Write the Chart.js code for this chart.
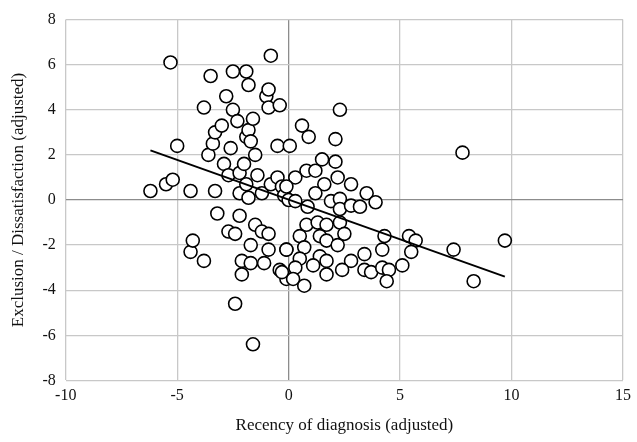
<!DOCTYPE html><html><head><script src="https://cdn.jsdelivr.net/npm/chart.js"></script>
<style>body{margin:0;background:#fff}#w{width:637px;height:442px}</style></head><body><div id="w"><canvas id="c"></canvas></div>
<script>
const xs=[-6.2,-5.3,-5.5,-5.2,-5.0,-4.4,-4.4,-4.3,-3.8,-3.8,-3.6,-3.5,-3.4,-3.3,-3.3,-3.2,-3.0,-2.9,-2.8,-2.7,-2.7,-2.5,-2.5,-2.6,-2.4,-2.4,-2.3,-2.2,-2.2,-2.2,-2.1,-2.1,-2.0,-1.9,-1.9,-1.9,-1.8,-1.8,-1.8,-1.7,-1.7,-1.7,-1.6,-1.6,-1.5,-1.5,-1.4,-1.2,-1.2,-1.1,-1.0,-0.9,-0.9,-0.9,-0.9,-0.8,-0.8,-0.5,-0.5,-0.4,-0.4,-0.3,-0.2,-0.1,-0.1,
2.3,0.6,0.9,2.1,0.05,1.5,2.1,0.8,1.2,0.3,2.2,2.8,1.6,1.2,-0.1,3.5,3.9,1.9,2.3,0,0.3,2.3,2.8,3.2,0.85,0.8,1.3,1.7,2.3,2.5,0.5,1.4,1.7,2.2,4.3,5.4,5.7,4.2,5.5,0.7,-0.1,0.5,1.4,1.7,3.4,2.8,1.1,0.3,2.4,3.4,3.7,4.2,4.5,5.1,1.7,0.2,0.7,4.4,-0.3,7.8,7.4,8.3,9.7];
const ys=[0.4,6.1,0.7,0.9,2.4,0.4,-2.3,-1.8,4.1,-2.7,2.0,5.5,2.5,3.0,0.4,-0.6,3.3,1.6,4.6,1.1,-1.4,5.7,4.0,2.3,-1.5,-4.6,3.5,1.2,0.3,-0.7,-2.7,-3.3,1.6,5.7,2.8,0.7,5.1,3.1,0.1,2.6,-2.0,-2.8,-6.4,3.6,2.0,-1.1,1.1,0.3,-1.4,-2.8,4.6,4.9,4.1,-1.5,-2.2,6.4,0.7,2.4,1.0,4.2,-3.1,0.6,0.2,-2.2,-3.5,
4.0,3.3,2.8,2.7,2.4,1.8,1.7,1.3,1.3,1.0,1.0,0.7,0.7,0.3,0.6,0.3,-0.1,-0.05,0.05,0,-0.05,-0.4,-0.25,-0.3,-0.3,-1.1,-1.0,-1.1,-1.0,-1.5,-1.6,-1.6,-1.8,-2.0,-1.6,-1.6,-1.8,-2.2,-2.3,-2.1,-2.2,-2.6,-2.5,-2.7,-2.4,-2.7,-2.9,-3.0,-3.1,-3.1,-3.2,-3.0,-3.1,-2.9,-3.3,-3.5,-3.8,-3.6,-3.2,2.1,-2.2,-3.6,-1.8];
const trendX=[-6.2,9.7], trendY=[2.2,-3.4];
const xTicks=[-10,-5,0,5,10,15], yTicks=[-8,-6,-4,-2,0,2,4,6,8];
const serif='"Liberation Serif","Times New Roman",serif';
const gc=c=>c.tick&&c.tick.value===0?'#8c8c8c':'#c8c8c8';
new Chart(document.getElementById('c'),{data:{datasets:[
{type:'line',data:trendX.map((x,i)=>({x,y:trendY[i]})),borderColor:'#000',borderWidth:2,pointRadius:0,order:0},
{type:'scatter',data:xs.map((x,i)=>({x,y:ys[i]})),pointRadius:6.5,pointBackgroundColor:'#fff',pointBorderColor:'#000',pointBorderWidth:1.6,order:1}]},
options:{responsive:true,maintainAspectRatio:false,animation:false,layout:{padding:{top:4,right:12,left:4,bottom:2}},
plugins:{legend:{display:false},tooltip:{enabled:false}},
scales:{x:{type:'linear',min:-10,max:15,afterBuildTicks:a=>{a.ticks=xTicks.map(v=>({value:v}))},grid:{color:gc,lineWidth:1.3,drawTicks:false},border:{display:false},
ticks:{color:'#111',font:{family:serif,size:16},padding:6},title:{display:true,text:'Recency of diagnosis (adjusted)',color:'#111',font:{family:serif,size:17}}},
y:{min:-8,max:8,afterBuildTicks:a=>{a.ticks=yTicks.map(v=>({value:v}))},grid:{color:gc,lineWidth:1.3,drawTicks:false},border:{display:false},
ticks:{color:'#111',font:{family:serif,size:16},padding:10},title:{display:true,text:'Exclusion / Dissatisfaction (adjusted)',color:'#111',font:{family:serif,size:17}}}}}});
</script></body></html>
